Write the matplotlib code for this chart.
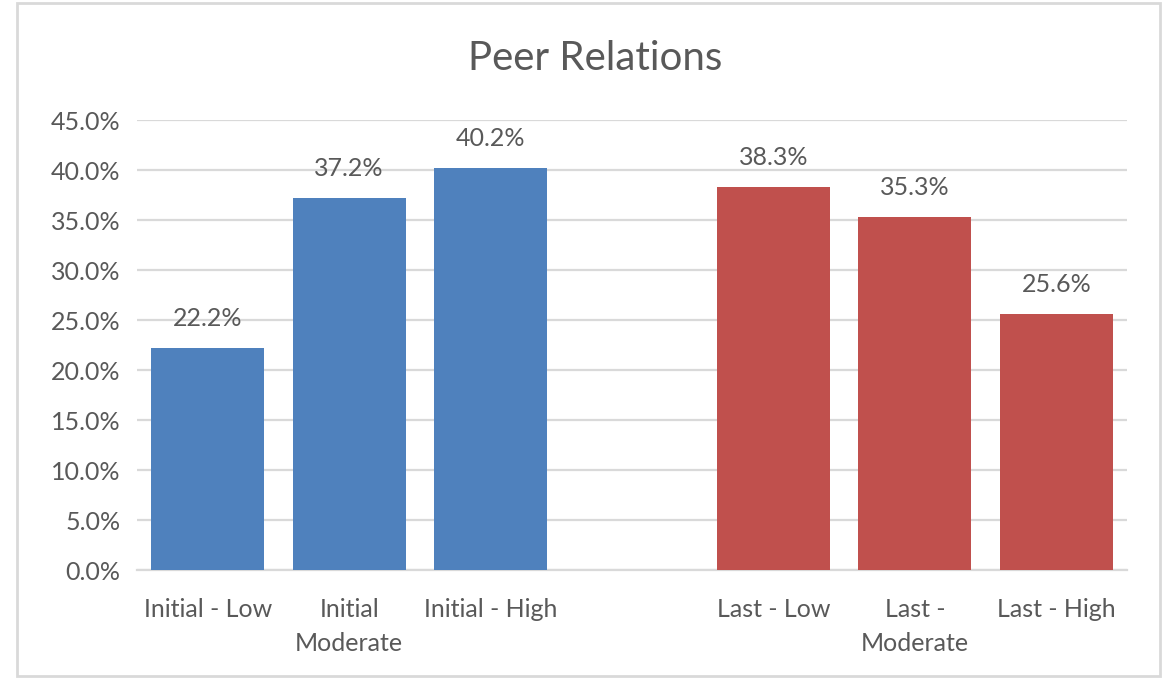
import numpy as np
import matplotlib
matplotlib.use("Agg")
import matplotlib.pyplot as plt
from matplotlib.patches import Rectangle

TITLE = "Peer Relations"
initial_labels = ["Initial - Low", "Initial\nModerate", "Initial - High"]
initial_values = [22.2, 37.2, 40.2]
last_labels = ["Last - Low", "Last -\nModerate", "Last - High"]
last_values = [38.3, 35.3, 25.6]
y_ticks = [0, 5, 10, 15, 20, 25, 30, 35, 40, 45]

BLUE = "#4F81BD"
RED = "#C0504D"
TEXT = "#595959"
GRID = "#D9D9D9"

plt.rcParams["font.family"] = ["Lato", "DejaVu Sans"]

fig = plt.figure(figsize=(11.73, 6.79), dpi=100)
ax = fig.add_axes([137 / 1173, 1 - 570 / 679, 990 / 1173, 450 / 679])

# one empty slot between the two groups
x_init = np.arange(len(initial_values))
x_last = np.arange(len(last_values)) + len(initial_values) + 1

ax.bar(x_init, initial_values, width=0.8, color=BLUE, zorder=3)
ax.bar(x_last, last_values, width=0.8, color=RED, zorder=3)

for x, v in zip(list(x_init) + list(x_last), initial_values + last_values):
    ax.annotate(f"{v:.1f}%", (x, v), xytext=(0, 13), textcoords="offset points",
                ha="center", va="bottom", fontsize=18, color=TEXT)

ax.set_xlim(-0.5, len(initial_values) + len(last_values) + 0.5)
ax.set_ylim(0, 45)
ax.set_yticks(y_ticks)
ax.set_yticklabels([f"{t:.1f}%" for t in y_ticks])
ax.set_xticks(list(x_init) + list(x_last))
ax.set_xticklabels(initial_labels + last_labels, linespacing=1.6)

ax.tick_params(axis="both", length=0, labelsize=18, labelcolor=TEXT)
ax.tick_params(axis="x", pad=20)
ax.tick_params(axis="y", pad=12)
for lbl in ax.get_xticklabels():
    lbl.set_ha("center")
    lbl.set_va("top")

ax.yaxis.grid(True, color=GRID, linewidth=1.6, zorder=0)
ax.set_axisbelow(True)
for side in ["top", "right", "left"]:
    ax.spines[side].set_visible(False)
ax.spines["bottom"].set_color(GRID)
ax.spines["bottom"].set_linewidth(1.6)

fig.text(595 / 1173, 1 - 58 / 679, TITLE, ha="center", va="center",
         fontsize=29, color=TEXT)

fig.patches.append(Rectangle((17 / 1173, 3 / 679), 1143 / 1173, 673 / 679,
                             transform=fig.transFigure, fill=False,
                             edgecolor=GRID, linewidth=2))

fig.savefig("out.png", dpi=100)
